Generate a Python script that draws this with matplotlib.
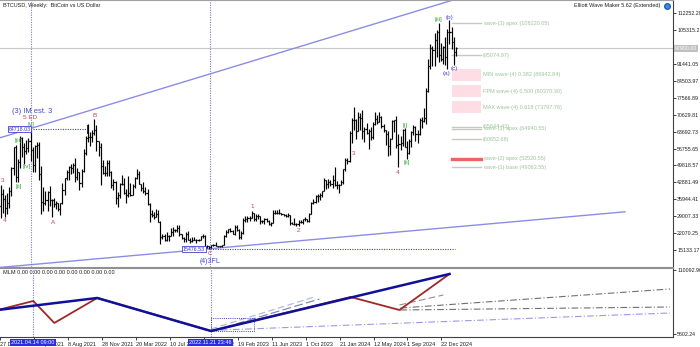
import numpy as np
import matplotlib
matplotlib.use("Agg")
import matplotlib.pyplot as plt
from matplotlib import font_manager as fm
from matplotlib.collections import LineCollection
from matplotlib.patches import Rectangle

# weekly BTCUSD bars, index 0 = week of 27 Dec 2020, prices in thousands
first_open = 26.2
highs = [34.8, 41.9, 40.1, 37.8, 38.5, 40.9, 49.0, 57.5, 58.4, 52.6,
         61.8, 61.7, 59.0, 60.2, 61.2, 64.9, 57.4, 58.4, 59.5, 59.6,
         49.8, 40.9, 39.5, 39.4, 41.3, 36.0, 36.6, 35.1, 34.6, 34.5,
         42.6, 44.7, 48.1, 49.4, 50.5, 51.0, 52.9, 48.8, 47.3, 48.4,
         56.6, 62.0, 67.0, 63.7, 64.3, 69.0, 66.3, 59.9, 59.2, 51.9,
         49.5, 51.9, 52.1, 47.6, 44.4, 43.5, 38.9, 42.6, 45.8, 44.8,
         40.0, 45.4, 42.6, 42.3, 45.0, 48.2, 47.5, 42.4, 42.9, 40.8,
         40.0, 34.4, 31.4, 30.6, 32.0, 31.7, 26.9, 21.9, 21.5, 22.4,
         21.3, 24.3, 24.6, 23.6, 25.2, 25.2, 21.8, 20.6, 22.5, 22.8,
         19.9, 20.4, 20.5, 19.6, 19.7, 21.0, 21.5, 21.4, 17.2, 16.8,
         17.3, 17.4, 18.4, 16.9, 16.9, 17.2, 21.3, 23.3, 23.8, 24.3,
         23.4, 25.2, 25.3, 23.9, 22.8, 28.4, 29.2, 29.2, 29.0, 31.0,
         30.5, 30.0, 29.8, 29.0, 27.6, 28.4, 28.4, 27.4, 26.8, 31.4,
         31.4, 31.5, 31.8, 30.4, 30.0, 29.7, 30.2, 29.6, 26.6, 28.1,
         26.1, 27.4, 27.5, 28.0, 28.6, 28.0, 30.2, 35.0, 35.9, 37.9,
         38.0, 38.4, 39.4, 44.5, 44.0, 44.4, 43.9, 45.9, 49.0, 43.6,
         42.2, 43.8, 48.5, 52.8, 52.9, 64.0, 69.2, 73.8, 68.9, 71.7,
         71.3, 72.7, 65.5, 67.2, 64.7, 65.5, 67.5, 71.9, 70.6, 71.9,
         70.0, 67.0, 64.5, 63.8, 60.9, 68.3, 68.5, 70.0, 62.7, 62.0,
         64.9, 65.0, 59.8, 60.6, 64.1, 66.5, 66.1, 64.5, 69.4, 69.5,
         73.6, 81.5, 93.5, 99.6, 98.9, 104.0, 105.3, 108.4, 99.9, 98.9,
         102.7, 106.0, 109.6, 106.5, 102.5, 98.6]
lows = [25.9, 28.2, 30.3, 28.8, 29.9, 32.3, 37.3, 45.9, 43.0, 43.0,
        48.9, 53.3, 50.4, 54.7, 55.5, 51.5, 47.0, 47.0, 53.0, 43.9,
        30.0, 31.1, 33.4, 31.0, 33.3, 28.8, 32.7, 32.1, 31.0, 29.3,
        34.1, 37.5, 43.8, 43.9, 46.4, 46.6, 43.0, 44.0, 39.6, 40.8,
        47.1, 54.1, 59.6, 58.0, 59.4, 62.3, 55.6, 53.6, 42.0, 46.5,
        45.6, 45.6, 45.7, 40.7, 39.6, 34.0, 32.9, 36.3, 41.7, 38.0,
        34.3, 37.0, 37.2, 37.6, 40.5, 44.4, 42.1, 39.2, 38.6, 37.6,
        33.7, 26.7, 28.7, 28.0, 28.5, 26.5, 17.6, 19.6, 18.8, 19.0,
        18.9, 20.7, 20.7, 22.4, 22.7, 20.8, 19.5, 18.6, 18.5, 19.3,
        18.1, 18.5, 19.1, 18.2, 18.8, 19.2, 20.1, 15.6, 15.8, 15.5,
        16.0, 16.8, 16.6, 16.4, 16.3, 16.5, 17.1, 20.4, 22.3, 22.5,
        21.5, 21.4, 22.8, 19.6, 19.6, 21.9, 26.6, 26.6, 27.2, 28.2,
        27.1, 26.9, 27.7, 25.8, 26.4, 26.0, 26.5, 25.4, 24.8, 26.3,
        29.9, 29.7, 30.1, 29.6, 28.9, 28.6, 28.8, 25.2, 25.8, 25.4,
        24.9, 25.1, 26.3, 26.0, 27.2, 26.5, 26.8, 29.9, 34.1, 34.5,
        34.8, 35.6, 36.8, 39.2, 40.2, 40.5, 41.2, 40.7, 41.5, 40.3,
        38.5, 41.8, 42.3, 47.7, 50.6, 51.3, 59.2, 64.5, 60.8, 63.9,
        64.5, 60.8, 59.6, 62.8, 56.5, 60.2, 60.7, 66.3, 66.7, 67.6,
        65.1, 63.4, 58.4, 53.5, 54.3, 60.7, 63.5, 57.1, 49.0, 56.1,
        57.8, 57.2, 52.6, 54.6, 57.5, 62.3, 59.8, 58.9, 62.4, 65.1,
        67.6, 66.8, 80.0, 89.4, 90.8, 90.5, 94.2, 92.2, 92.5, 91.5,
        91.2, 89.2, 99.5, 97.8, 91.2, 94.9]
closes = [33.0, 38.2, 36.0, 32.3, 34.3, 39.2, 48.6, 57.4, 45.2, 51.2,
          61.2, 57.4, 55.8, 57.0, 60.0, 56.2, 50.1, 57.8, 58.2, 46.4,
          34.8, 34.6, 35.5, 39.0, 35.6, 35.8, 33.9, 34.3, 31.8, 34.3,
          39.8, 44.6, 47.1, 49.3, 48.8, 49.9, 45.0, 47.3, 42.7, 47.7,
          54.9, 60.9, 61.3, 61.3, 63.3, 64.4, 59.7, 57.3, 49.4, 46.8,
          46.9, 50.8, 47.3, 41.8, 43.1, 36.3, 37.9, 42.4, 42.2, 38.4,
          37.7, 38.4, 37.8, 41.3, 44.5, 46.4, 42.2, 40.4, 39.4, 38.5,
          34.1, 30.1, 29.5, 28.6, 29.9, 26.6, 20.6, 21.0, 19.3, 20.9,
          20.8, 22.6, 23.3, 23.2, 24.3, 21.5, 20.0, 19.8, 21.8, 19.4,
          18.9, 19.3, 19.1, 19.2, 19.2, 20.8, 20.9, 16.3, 16.6, 16.4,
          17.1, 17.1, 16.8, 16.8, 16.6, 17.1, 20.9, 22.7, 23.7, 23.0,
          21.8, 24.6, 23.2, 20.5, 22.0, 27.6, 27.9, 28.2, 28.3, 30.3,
          27.8, 29.2, 28.9, 26.9, 26.9, 27.7, 27.1, 25.9, 26.3, 30.5,
          30.5, 30.3, 30.3, 29.9, 29.3, 29.0, 29.4, 26.1, 26.0, 25.8,
          25.9, 26.6, 26.5, 27.9, 27.9, 26.9, 29.9, 34.5, 35.0, 37.1,
          37.4, 37.5, 39.4, 43.8, 42.2, 43.0, 42.3, 43.9, 41.7, 41.6,
          42.0, 43.0, 48.3, 52.1, 51.7, 63.1, 68.4, 68.3, 64.0, 69.6,
          69.3, 63.9, 64.9, 63.1, 63.9, 61.5, 67.0, 68.8, 67.7, 69.6,
          66.1, 64.3, 62.7, 57.9, 60.8, 68.0, 68.3, 58.2, 58.7, 58.9,
          64.2, 57.3, 54.8, 59.9, 63.6, 65.8, 62.9, 62.9, 68.4, 67.9,
          69.4, 80.4, 90.6, 97.9, 97.2, 101.2, 104.5, 95.2, 93.7, 98.3,
          94.5, 104.5, 104.7, 100.6, 96.5, 97.9]

# x axis labels (week index, text)
xtick_weeks = [0, 16, 32, 48, 64, 80, 96, 112, 128, 144, 160, 176, 192, 208]
xtick_labels = ['27 Dec 2020', '18 Apr 2021', '8 Aug 2021', '28 Nov 2021', '20 Mar 2022',
                '10 Jul 2022', '30 Oct 2022', '19 Feb 2023', '11 Jun 2023', '1 Oct 2023',
                '21 Jan 2024', '12 May 2024', '1 Sep 2024', '22 Dec 2024']
price_ticks = [15133.17, 22070.25, 29007.33, 35944.41, 42881.49, 49818.57, 56755.65,
               63692.73, 70629.81, 77566.89, 84503.97, 91441.05, 98378.13, 105315.21, 112252.29]

# vertical markers (week index, label)
vmarks = [(15.43, '2021.04.14 09:00'), (99.2, '2022.11.21 23:46')]

# channel lines (week, price)
upper_channel = [(0.6, 61160), (240.0, 124700)]
lower_channel = [(0.6, 7980), (294.5, 30800)]

# wave labels (text, week, price, colour)
RED, BLUE, GREEN = '#c04848', '#4848d0', '#3ca03c'
wave_labels = [
    ('3', 2.0, 43800, RED), ('4', 3.0, 27400, RED), ('A', 25.6, 26600, RED),
    ('B', 45.3, 70500, RED), ('5 ED', 15.0, 69300, RED), ('C', 99.4, 13900, RED),
    ('1', 119.1, 32800, RED), ('2', 140.8, 23300, RED), ('3', 167.1, 54900, RED),
    ('4', 187.8, 47100, RED),
    ('(b)', 211.8, 110700, BLUE), ('(a)', 210.8, 87700, BLUE), ('(c)', 214.1, 89800, BLUE),
    ('[iii]', 206.6, 109900, GREEN), ('[i]', 191.1, 66400, GREEN), ('[ii]', 192.0, 51200, GREEN),
    ('[ii]', 9.6, 41000, GREEN), ('[iii]', 9.1, 59900, GREEN), ('[iv]', 13.3, 49200, GREEN),
    ('[v]', 15.2, 66800, GREEN),
]

# projection levels on the right
levels = [108220.05, 95074.97, 86942.84, 80370.30, 73797.76, 65644.43, 64940.55,
          60652.68, 52520.55, 49063.55]
level_texts = ['wave-(3) apex (108220.05)', '(95074.97)', 'MIN wave-(4) 0.382 (86942.84)',
               'FPM wave-(4) 0.500 (80370.30)', 'MAX wave-(4) 0.618 (73797.76)',
               '(65644.43)', 'wave-(1) apex (64940.55)', '(60652.68)',
               'wave-(2) apex (52520.55)', 'wave-(1) base (49063.55)']
level_kind = ['line', 'line', 'zone', 'zone', 'zone', 'line', 'line', 'line', 'red', 'line']

# MLM indicator pivots (week, value)
mlm_blue = [(-1, 44800), (45.8, 64400), (99.4, 10500), (211.8, 103600)]
mlm_red = [(-1, 44800), (15.7, 59500), (25.6, 23600), (45.8, 64400), (99.4, 10500),
           (165.2, 66000), (188.2, 44800), (211.8, 103600)]
mlm_dashes = [((99.4, 13800), (148.0, 66000), '#a8b4d8', (6, 3)),
              ((100.0, 10500), (150.5, 62700), '#7080b0', (8, 3)),
              ((188.2, 53000), (208.9, 69300), '#909090', (6, 3))]
mlm_dashdot = [((188.7, 48000), (315.7, 79100), '#707070'),
               ((188.7, 44800), (315.7, 49700), '#707070'),
               ((104.0, 12100), (315.7, 39900), '#9a9ae0')]
mlm_box = [(99.4, 10500), (119.6, 31700)]

# narrow font if the system has one
names = {f.name for f in fm.fontManager.ttflist}
if 'Liberation Sans Narrow' in names:
    plt.rcParams['font.family'] = ['Liberation Sans Narrow', 'DejaVu Sans']
    FS = 4.4
else:
    plt.rcParams['font.family'] = ['Liberation Sans', 'DejaVu Sans']
    FS = 3.8

W, H = 700, 347
fig = plt.figure(figsize=(7.0, 3.47), dpi=100)
ax = fig.add_axes([0, 80 / H, 673 / W, 267 / H])
ai = fig.add_axes([0, 10 / H, 673 / W, 69 / H])
XL = (0.635, 317.1)

# --- main price panel
weeks = np.arange(len(closes))
opens = [first_open] + closes[:-1]
segs = []
for w, o, h, l, c in zip(weeks, opens, highs, lows, closes):
    segs.append([(w, l * 1000), (w, h * 1000)])
    segs.append([(w - 0.5, o * 1000), (w, o * 1000)])
    segs.append([(w, c * 1000), (w + 0.5, c * 1000)])
ax.add_collection(LineCollection(segs, colors='black', linewidths=0.85, zorder=3))

ax.set_xlim(*XL)
ax.set_ylim(8157, 117710)

# current price line
last = closes[-1] * 1000
ax.axhline(last, color='#c8c8c8', lw=0.8, zorder=1)

for xs, ys in [zip(*upper_channel), zip(*lower_channel)]:
    ax.plot(list(xs), list(ys), color='#8c8ce6', lw=1.0, zorder=2)

for wk, _ in vmarks:
    ax.axvline(wk, color='#7a7ac8', lw=0.8, ls=(0, (1, 1.2)), zorder=2)
    ai.axvline(wk, color='#7a7ac8', lw=0.8, ls=(0, (1, 1.2)), zorder=2)

# extreme price markers
ax.plot([16.0, 41.5], [64718.03, 64718.03], color='#4040d0', lw=0.8, ls=(0, (1, 1.2)))
ax.plot([41.5, 41.5], [63000, 66500], color='#303030', lw=0.7)
ax.plot([99.2, 214.5], [15476.53, 15476.53], color='#4040d0', lw=0.8, ls=(0, (1, 1.2)))
ax.text(9.8, 64718.03, '64718.03', fontsize=FS, color='#3030c0', ha='center', va='center',
        bbox=dict(boxstyle='square,pad=0.15', fc='white', ec='#4040d0', lw=0.6), zorder=6)
ax.text(91.8, 15476.53, '15476.53', fontsize=FS, color='#3030c0', ha='center', va='center',
        bbox=dict(boxstyle='square,pad=0.15', fc='white', ec='#4040d0', lw=0.6), zorder=6)

ax.text(15.7, 72100, '(3) IM est. 3', fontsize=FS + 1.6, color='#4848c8', ha='center', va='center')
ax.text(99.4, 10600, '(4)3FL', fontsize=FS + 1.2, color='#4848c8', ha='center', va='center',
        clip_on=False)

for t, wk, p, col in wave_labels:
    ax.text(wk, p, t, fontsize=FS + 0.8, color=col, ha='center', va='center', zorder=5)

# projection levels
x0, x1, xt = 213.2, 226.8, 227.8
for lv, txt, kind in zip(levels, level_texts, level_kind):
    if kind == 'zone':
        ax.add_patch(Rectangle((x0, lv - 2450), x1 - x0, 4900, fc='#ffdde4', ec='none', zorder=1))
    elif kind == 'red':
        ax.plot([x0, x1], [lv, lv], color='#f06464', lw=2.4, zorder=2)
    else:
        ax.plot([x0, x1], [lv, lv], color='#c8c8c0', lw=1.0, zorder=2)
    ax.text(xt, lv, txt, fontsize=FS + 0.2, color='#9cc49c', ha='left', va='center', zorder=4)

ax.yaxis.tick_right()
ax.set_yticks(price_ticks)
ax.set_yticklabels(['%.2f' % v for v in price_ticks])
ax.tick_params(axis='y', length=2, width=0.6, pad=1, labelsize=FS, colors='#202020')
ax.set_xticks([])
ax.spines['left'].set_visible(False)
ax.spines['top'].set_color('#a0a0a0')
ax.spines['bottom'].set_color('#909090')
ax.spines['right'].set_color('#404040')
for s in ax.spines.values():
    s.set_linewidth(0.8)

ax.text(1.003, last, '%.2f' % last, transform=ax.get_yaxis_transform(), fontsize=FS,
        color='white', ha='left', va='center', clip_on=False, zorder=8,
        bbox=dict(boxstyle='square,pad=0.2', fc='#c0c0c0', ec='none'))

ax.text(3 / 673, 1 - 5 / 267, 'BTCUSD, Weekly:  BitCoin vs US Dollar', transform=ax.transAxes,
        fontsize=FS + 0.2, color='#202020', ha='left', va='center')
ax.text(660 / 673, 1 - 6 / 267, 'Elliott Wave Maker 5.62 (Extended)', transform=ax.transAxes,
        fontsize=FS + 0.2, color='#202020', ha='right', va='center')
ax.plot([667 / 673], [1 - 6 / 267], marker='o', ms=4, color='#3a8ee6', mec='#1c5fb0',
        transform=ax.transAxes, clip_on=False)

# --- MLM indicator panel
ai.set_xlim(*XL)
ai.set_ylim(704, 113358)
bx, by = zip(*mlm_blue)
rx, ry = zip(*mlm_red)
ai.plot(rx, ry, color='#a02828', lw=1.3, zorder=3)
ai.plot(bx, by, color='#10109a', lw=1.8, zorder=4)
for (p0, p1, col, dsh) in mlm_dashes:
    ai.plot([p0[0], p1[0]], [p0[1], p1[1]], color=col, lw=0.8, ls=(0, dsh), zorder=2)
for (p0, p1, col) in mlm_dashdot:
    ai.plot([p0[0], p1[0]], [p0[1], p1[1]], color=col, lw=0.8, ls=(0, (6, 2, 1, 2)), zorder=2)
(bx0, by0), (bx1, by1) = mlm_box
ai.add_patch(Rectangle((bx0, by0), bx1 - bx0, by1 - by0, fill=False, ec='#4040d0', lw=0.7,
                       ls=(0, (1, 1.2)), zorder=2))

ai.text(3 / 673, 1 - 4 / 69, 'MLM 0.00 0.00 0.00 0.00 0.00 0.00 0.00 0.00', transform=ai.transAxes,
        fontsize=FS + 0.2, color='#202020', ha='left', va='center')

ai.yaxis.tick_right()
ai.set_yticks([110092.96, 5602.24])
ai.set_yticklabels(['110092.96', '5602.24'])
ai.tick_params(axis='y', length=2, width=0.6, pad=1, labelsize=FS, colors='#202020')
ai.set_xticks(xtick_weeks)
ai.set_xticklabels(xtick_labels)
ai.tick_params(axis='x', length=2, width=0.6, pad=1.5, labelsize=FS + 0.2, colors='#202020')
for lab in ai.get_xticklabels():
    lab.set_horizontalalignment('left')
ai.spines['left'].set_visible(False)
ai.spines['top'].set_color('#909090')
ai.spines['bottom'].set_color('#404040')
ai.spines['right'].set_color('#404040')
for s in ai.spines.values():
    s.set_linewidth(0.8)

for wk, txt in vmarks:
    ai.text(wk, -0.085, txt, transform=ai.get_xaxis_transform(), fontsize=FS + 0.2, color='white',
            ha='center', va='center', clip_on=False, zorder=9,
            bbox=dict(boxstyle='square,pad=0.2', fc='#2a2ae8', ec='none'))

fig.savefig('out.png', dpi=100)
